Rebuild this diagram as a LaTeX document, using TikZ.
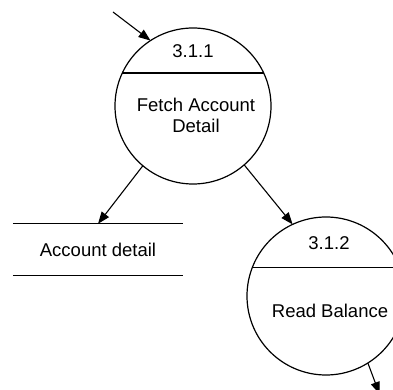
\documentclass[tikz,border=0pt]{standalone}
\usepackage{fontspec}
\setmainfont{Liberation Sans}
\usepackage{tikz}
\usetikzlibrary{arrows.meta,calc,positioning}

\begin{document}
\begin{tikzpicture}[x=1pt,y=1pt,
    proc/.style={circle,draw,line width=1.2pt,inner sep=0pt,outer sep=0pt},
    flow/.style={line width=1.1pt,-{Triangle[length=12pt,width=9pt]}},
    lbl/.style={font=\fontsize{18.5}{21}\selectfont,align=center}]
  \clip (0,0) rectangle (393,390);
  % processes
  \node[proc,minimum size=156pt] (fetch) at (193,284) {};
  \node[proc,minimum size=158pt] (read) at (326,94) {};
  \draw[line width=1.2pt] (fetch.25) -- (fetch.155);
  \draw[line width=1.2pt] (read.21) -- (read.159);
  \node[lbl] (fetchid) at (193,339) {3.1.1};
  \node[lbl] (fetchname) at (196,274.5) {Fetch Account\\Detail};
  \node[lbl] (readid) at (329,147) {3.1.2};
  \node[lbl] (readname) at (330,79) {Read Balance};
  % data store
  \node[lbl,minimum width=170pt,minimum height=51pt,inner sep=0pt] (store) at (98,140.5) {Account detail};
  \draw[line width=1.2pt] (store.north west) -- (store.north east);
  \draw[line width=1.2pt] (store.south west) -- (store.south east);
  % flows
  \coordinate (src) at (113,378);
  \coordinate (sink) at (379.5,-4);
  \draw[flow] (src) -- (fetch.123.5);
  \draw[flow] (fetch.-130.5) -- (store.north);
  \draw[flow] (fetch.-49.5) -- (read.115);
  \draw[flow] (read.-58.5) -- (sink);
\end{tikzpicture}
\end{document}
